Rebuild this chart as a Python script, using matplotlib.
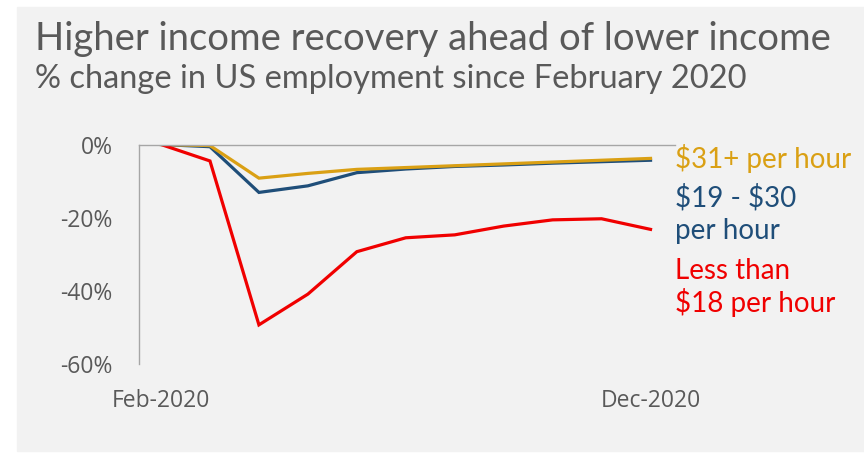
import matplotlib
matplotlib.use('Agg')
from matplotlib import pyplot as plt
from matplotlib.patches import Rectangle

# % change in US employment since Feb 2020, monthly Feb..Dec
months = ['Feb-2020', 'Mar-2020', 'Apr-2020', 'May-2020', 'Jun-2020', 'Jul-2020',
          'Aug-2020', 'Sep-2020', 'Oct-2020', 'Nov-2020', 'Dec-2020']
high_income = [0, -0.3, -9.2, -7.9, -6.8, -6.3, -5.8, -5.3, -4.8, -4.3, -3.8]
mid_income = [0, -0.6, -13.1, -11.3, -7.7, -6.7, -6.0, -5.6, -5.1, -4.7, -4.3]
low_income = [0, -4.5, -49.3, -40.9, -29.3, -25.5, -24.7, -22.3, -20.6, -20.3, -23.2]
y_ticks = [0, -20, -40, -60]
shown_ticks = ['Feb-2020', 'Dec-2020']

GOLD = '#DAA014'
BLUE = '#1F4E79'
RED = '#F00000'
GREY_TXT = '#595959'
W, H = 864, 454


def main():
    fig = plt.figure(figsize=(W / 100, H / 100), dpi=100, facecolor='white')
    fig.patches.append(Rectangle((17 / W, 3 / H), 847 / W, 444 / H,
                                 transform=fig.transFigure, color='#F2F2F2', zorder=-5))

    ax = fig.add_axes([139 / W, (H - 364) / H, 536 / W, 219.5 / H])
    ax.set_facecolor('none')
    x = list(range(len(months)))
    ax.plot(x, mid_income, color=BLUE, lw=2.3, solid_joinstyle='miter')
    ax.plot(x, high_income, color=GOLD, lw=2.3, solid_joinstyle='miter')
    ax.plot(x, low_income, color=RED, lw=2.3, solid_joinstyle='miter')

    ax.set_xlim(-0.45, 10.5)
    ax.set_ylim(-60, 0)
    ax.set_yticks(y_ticks)
    ax.set_yticklabels(['{}%'.format(v) for v in y_ticks])
    ax.set_xticks([months.index(m) for m in shown_ticks])
    ax.set_xticklabels(shown_ticks)
    ax.tick_params(length=0, labelsize=16.5, labelcolor=GREY_TXT)
    ax.tick_params(axis='y', pad=19)
    ax.tick_params(axis='x', pad=18)
    for lab in ax.get_xticklabels() + ax.get_yticklabels():
        lab.set_family('Open Sans')

    for s in ['right', 'bottom']:
        ax.spines[s].set_visible(False)
    for s in ['top', 'left']:
        ax.spines[s].set_color('#A6A6A6')
        ax.spines[s].set_linewidth(1)

    fig.text(35 / W, (H - 50) / H, 'Higher income recovery ahead of lower income',
             family='Lato', fontsize=27.5, color=GREY_TXT, va='baseline')
    fig.text(35 / W, (H - 88) / H, '% change in US employment since February 2020',
             family='Lato', fontsize=23.5, color=GREY_TXT, va='baseline')

    lx = 675 / W
    fs = 20
    fig.text(lx, (H - 168) / H, r'\$31+ per hour', family='Lato', fontsize=fs, color=GOLD, va='baseline')
    fig.text(lx, (H - 206) / H, r'\$19 - \$30', family='Lato', fontsize=fs, color=BLUE, va='baseline')
    fig.text(lx, (H - 239) / H, 'per hour', family='Lato', fontsize=fs, color=BLUE, va='baseline')
    fig.text(lx, (H - 279) / H, 'Less than', family='Lato', fontsize=fs, color=RED, va='baseline')
    fig.text(lx, (H - 312) / H, r'\$18 per hour', family='Lato', fontsize=fs, color=RED, va='baseline')

    fig.savefig('out.png', dpi=100, facecolor='white')


if __name__ == "__main__":
    main()
